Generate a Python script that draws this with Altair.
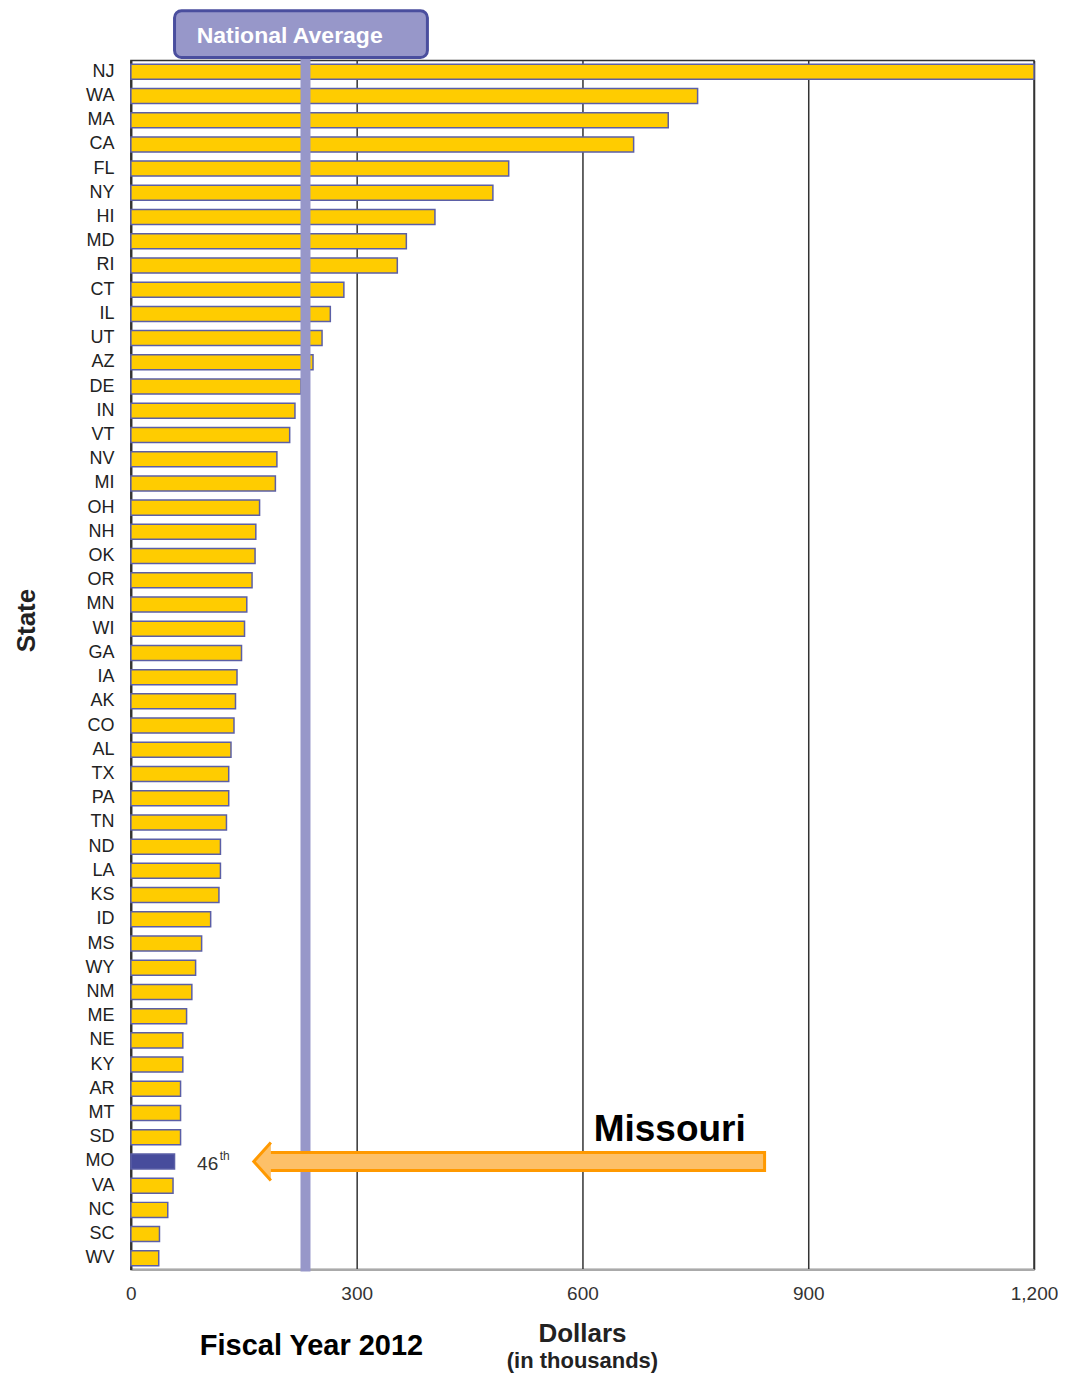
import altair as alt
import pandas as pd

states = ["NJ", "WA", "MA", "CA", "FL", "NY", "HI", "MD", "RI", "CT",
          "IL", "UT", "AZ", "DE", "IN", "VT", "NV", "MI", "OH", "NH",
          "OK", "OR", "MN", "WI", "GA", "IA", "AK", "CO", "AL", "TX",
          "PA", "TN", "ND", "LA", "KS", "ID", "MS", "WY", "NM", "ME",
          "NE", "KY", "AR", "MT", "SD", "MO", "VA", "NC", "SC", "WV"]
values = [1200, 753, 714, 668, 502, 481, 404, 366, 354, 283,
          265, 254, 242, 226, 218, 211, 194, 192, 171, 166,
          165, 161, 154, 151, 147, 141, 139, 137, 133, 130,
          130, 127, 119, 119, 117, 106, 94, 86, 81, 74,
          69, 69, 66, 66, 66, 58, 56, 49, 38, 37]
national_average = [232]
tick_values = [0, 300, 600, 900, 1200]
highlight = "MO"

FONT = "Liberation Sans, Arial, sans-serif"

df = pd.DataFrame({"state": states, "value": values})

x_scale = alt.Scale(domain=[0, 1200], nice=False, zero=True)
y_scale = alt.Scale(paddingInner=0.38, paddingOuter=0.15)

x_axis = alt.Axis(values=tick_values, format=",.0f", title=None,
                  labelFont=FONT, labelFontSize=19, labelColor="#333",
                  labelPadding=15, labelFlush=False, ticks=False, grid=True,
                  gridColor="#333", gridWidth=1.5,
                  domainColor="#aaa", domainWidth=2)
y_axis = alt.Axis(title="State", labelFont=FONT, labelFontSize=18,
                  labelColor="#222", labelPadding=17, ticks=False,
                  domainColor="#333", domainWidth=2,
                  titleFont=FONT, titleFontSize=26,
                  titleFontWeight="bold", titleColor="#222",
                  titleX=-104, titleY=560, titleAlign="center",
                  titleBaseline="middle")


def xq(field):
    return alt.X(field, scale=x_scale, axis=x_axis, title=None)


def yb():
    return alt.Y("state:N", sort=states, scale=y_scale, axis=y_axis,
                 title="State")


bars = alt.Chart(df).mark_bar(stroke="#5b5fa6", strokeWidth=1.5).encode(
    x=xq("value:Q"),
    y=yb(),
    color=alt.condition(alt.datum.state == highlight,
                        alt.value("#474c9c"), alt.value("#ffcc00")),
)

avg_df = pd.DataFrame({"avg": national_average})
avg_rule = alt.Chart(avg_df).mark_rule(color="#9797c9", strokeWidth=10).encode(
    x=xq("avg:Q"),
    y=alt.value(-2), y2=alt.value(1212),
)

box_df = pd.DataFrame({"x1": [58], "x2": [394], "cx": [211],
                       "label": ["National Average"]})
avg_box = alt.Chart(box_df).mark_rect(
    fill="#9797c9", stroke="#4a4e9e", strokeWidth=3, cornerRadius=7
).encode(x=xq("x1:Q"), x2="x2:Q",
         y=alt.value(-50), y2=alt.value(-3))
avg_text = alt.Chart(box_df).mark_text(
    color="white", font=FONT, fontSize=23, fontWeight="bold"
).encode(x=xq("cx:Q"), y=alt.value(-25), text="label:N")

arrow_df = pd.DataFrame({"state": [highlight], "x1": [180], "x2": [842],
                         "head": [186], "label": ["Missouri"],
                         "lx": [615], "rank": ["46"], "rx": [88],
                         "sup": ["th"], "sx": [118]})
shaft = alt.Chart(arrow_df).mark_bar(
    size=18, fill="#fdc068", stroke="#ff9900", strokeWidth=3
).encode(x=xq("x1:Q"), x2="x2:Q", y=yb())
head = alt.Chart(arrow_df).mark_point(
    shape="M 0 -1 L -0.9 0 L 0 1", size=1444, filled=True,
    fill="#fdc068", stroke="#ff9900", strokeWidth=3, opacity=1
).encode(x=xq("head:Q"), y=yb())
missouri = alt.Chart(arrow_df).mark_text(
    align="left", baseline="alphabetic", dy=-20, font=FONT, fontSize=37,
    fontWeight="bold", color="black"
).encode(x=xq("lx:Q"), y=yb(), text="label:N")
rank = alt.Chart(arrow_df).mark_text(
    align="left", baseline="middle", dy=3, font=FONT, fontSize=19,
    color="#333"
).encode(x=xq("rx:Q"), y=yb(), text="rank:N")
sup = alt.Chart(arrow_df).mark_text(
    align="left", baseline="middle", dy=-5, font=FONT, fontSize=12,
    color="#333"
).encode(x=xq("sx:Q"), y=yb(), text="sup:N")

bottom_df = pd.DataFrame({
    "x": [240, 600, 600],
    "label": ["Fiscal Year 2012", "Dollars", "(in thousands)"],
})
fy = alt.Chart(bottom_df.iloc[[0]]).mark_text(
    font=FONT, fontSize=29, fontWeight="bold", color="black"
).encode(x=xq("x:Q"), y=alt.value(1287), text="label:N")
dollars = alt.Chart(bottom_df.iloc[[1]]).mark_text(
    font=FONT, fontSize=26, fontWeight="bold", color="#222"
).encode(x=xq("x:Q"), y=alt.value(1275), text="label:N")
thousands = alt.Chart(bottom_df.iloc[[2]]).mark_text(
    font=FONT, fontSize=22, fontWeight="bold", color="#222"
).encode(x=xq("x:Q"), y=alt.value(1302), text="label:N")

chart = alt.layer(
    bars, avg_rule, avg_box, avg_text, shaft, head, missouri, rank, sup,
    fy, dollars, thousands
).properties(
    width=904, height=1210,
    autosize=alt.AutoSizeParams(type="none"),
    padding={"left": 123, "top": 52, "right": 24, "bottom": 110},
).configure_view(stroke="#333", strokeWidth=1.5)

chart.save("out.html", embed_options={"renderer": "svg", "actions": False})
